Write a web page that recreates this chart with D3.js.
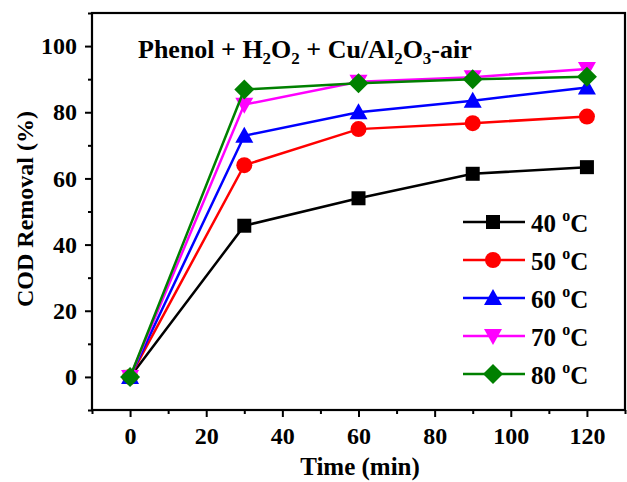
<!DOCTYPE html>
<html><head><meta charset="utf-8">
<script src="https://cdn.jsdelivr.net/npm/d3@7"></script>
<style>body{margin:0;background:#fff}svg{display:block}text{font-family:"Liberation Serif","Times New Roman",serif;font-weight:bold}</style>
</head><body>
<svg id="c" width="627" height="482"></svg>
<script>
const times = [0, 30, 60, 90, 120];
const s40 = [0, 45.7, 54.0, 61.4, 63.4];
const s50 = [0, 64.0, 74.9, 76.7, 78.7];
const s60 = [0, 72.9, 80.0, 83.5, 87.5];
const s70 = [0, 82.3, 89.2, 90.6, 93.1];
const s80 = [0, 86.9, 88.8, 90.0, 90.7];
const labels = ["40", "50", "60", "70", "80"];
const colors = ["#000000", "#ff0000", "#0000ff", "#ff00ff", "#008000"];
const shapes = ["square", "circle", "triUp", "triDown", "diamond"];
const xTicks = [0, 20, 40, 60, 80, 100, 120];
const yTicks = [0, 20, 40, 60, 80, 100];
const seriesVals = [s40, s50, s60, s70, s80];

const svg = d3.select("#c");
const L = 92, R = 625, T = 13, B = 410;
const x = d3.scaleLinear().domain([-10, 130]).range([L, R]);
const y = d3.scaleLinear().domain([-10, 110]).range([B, T]);

function marker(g, shape, cx, cy, color) {
  if (shape === "square") g.append("rect").attr("x", cx-7).attr("y", cy-7).attr("width", 14).attr("height", 14).attr("fill", color);
  else if (shape === "circle") g.append("circle").attr("cx", cx).attr("cy", cy).attr("r", 8).attr("fill", color);
  else if (shape === "triUp") g.append("path").attr("d", `M${cx},${cy-9}L${cx+9},${cy+7}L${cx-9},${cy+7}Z`).attr("fill", color);
  else if (shape === "triDown") g.append("path").attr("d", `M${cx},${cy+9}L${cx+9},${cy-7}L${cx-9},${cy-7}Z`).attr("fill", color);
  else if (shape === "diamond") g.append("path").attr("d", `M${cx},${cy-10}L${cx+10},${cy}L${cx},${cy+10}L${cx-10},${cy}Z`).attr("fill", color);
}

const xAxis = d3.axisBottom(x).tickValues(xTicks).tickSize(7).tickPadding(10).tickFormat(d3.format("d"));
const xMinor = d3.axisBottom(x).tickValues(d3.range(-10, 131, 10).filter(v => v % 20 !== 0)).tickSize(4).tickFormat("");
const yAxis = d3.axisLeft(y).tickValues(yTicks).tickSize(7).tickPadding(8).tickFormat(d3.format("d"));
const yMinor = d3.axisLeft(y).tickValues(d3.range(-10, 111, 10).filter(v => v % 20 !== 0)).tickSize(4).tickFormat("");

function styleAxis(g) {
  g.select(".domain").remove();
  g.selectAll("line").attr("stroke", "#000").attr("stroke-width", 2);
  g.selectAll("text").attr("font-size", 24).attr("fill", "#000").style("font-family", "'Liberation Serif',serif").style("font-weight", "bold");
}
svg.append("g").attr("transform", `translate(0,${B})`).call(xAxis).call(styleAxis);
svg.append("g").attr("transform", `translate(0,${B})`).call(xMinor).call(styleAxis);
svg.append("g").attr("transform", `translate(${L},0)`).call(yAxis).call(styleAxis);
svg.append("g").attr("transform", `translate(${L},0)`).call(yMinor).call(styleAxis);

svg.append("rect").attr("x", L).attr("y", T).attr("width", R-L).attr("height", B-T)
  .attr("fill", "none").attr("stroke", "#000").attr("stroke-width", 2.2);

const line = d3.line().x((d, i) => x(times[i])).y(d => y(d));
seriesVals.forEach((vals, k) => {
  const g = svg.append("g");
  g.append("path").datum(vals).attr("d", line).attr("fill", "none").attr("stroke", colors[k]).attr("stroke-width", 2.5);
  vals.forEach((v, i) => marker(g, shapes[k], x(times[i]), y(v), colors[k]));
});

// title
const t = svg.append("text").attr("x", 138).attr("y", 58).attr("font-size", 26).attr("fill", "#000");
const sub = (txt) => { t.append("tspan").attr("font-size", 17).attr("dy", 6).text(txt); };
t.append("tspan").text("Phenol + H");
sub("2");
t.append("tspan").attr("dy", -6).text("O");
sub("2");
t.append("tspan").attr("dy", -6).text(" + Cu/Al");
sub("2");
t.append("tspan").attr("dy", -6).text("O");
sub("3");
t.append("tspan").attr("dy", -6).text("-air");

// legend
labels.forEach((lab, k) => {
  const ly = 222 + k * 38;
  const g = svg.append("g");
  g.append("line").attr("x1", 463).attr("x2", 525).attr("y1", ly).attr("y2", ly).attr("stroke", colors[k]).attr("stroke-width", 2.5);
  marker(g, shapes[k], 493, ly, colors[k]);
  const tx = g.append("text").attr("x", 531).attr("y", ly + 9.5).attr("font-size", 25).attr("fill", "#000");
  tx.append("tspan").text(lab + " ");
  tx.append("tspan").attr("font-size", 16).attr("dy", -11).text("o");
  tx.append("tspan").attr("dy", 11).text("C");
});

// axis titles
svg.append("text").attr("x", 360).attr("y", 475).attr("text-anchor", "middle").attr("font-size", 25).attr("fill", "#000").text("Time (min)");
svg.append("text").attr("transform", `translate(33,209) rotate(-90)`).attr("text-anchor", "middle").attr("font-size", 24).attr("fill", "#000").text("COD Removal (%)");
</script>
</body></html>
